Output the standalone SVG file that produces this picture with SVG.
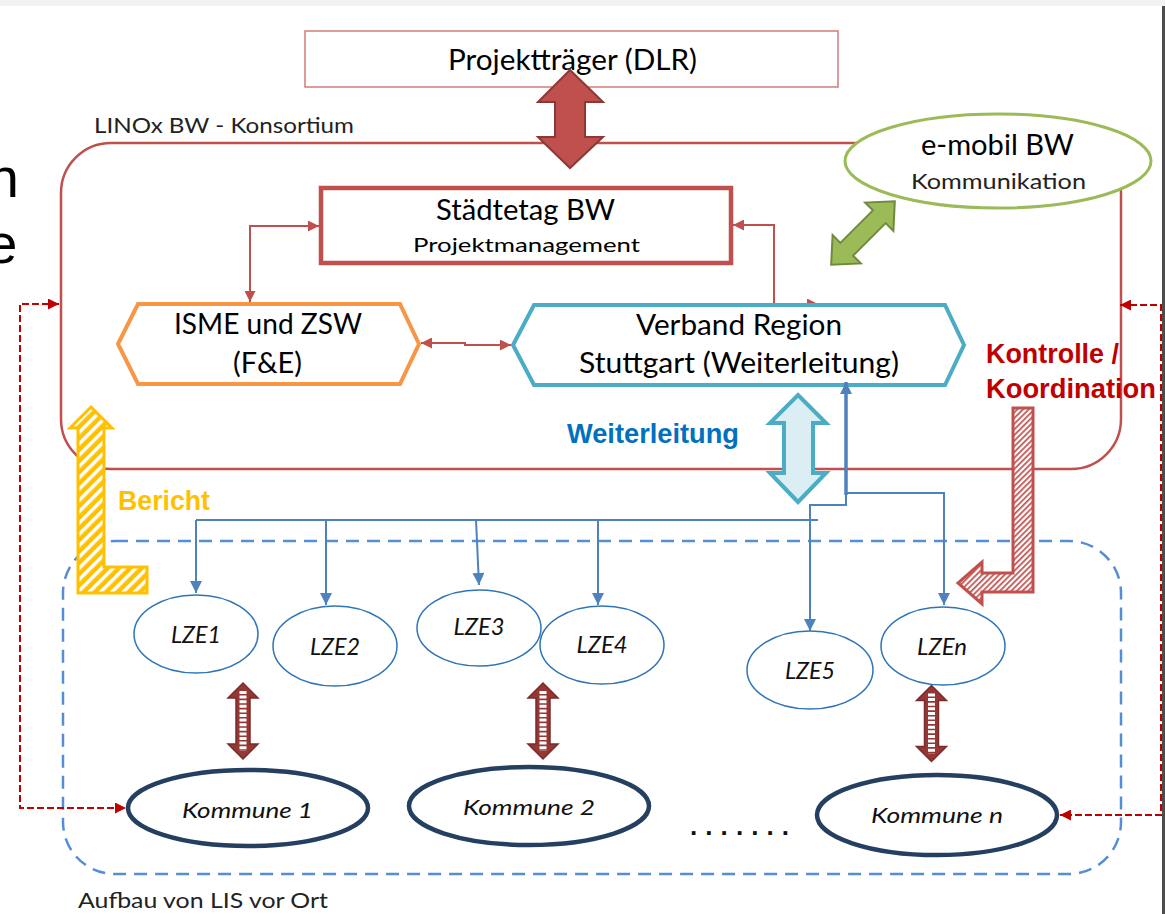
<svg xmlns="http://www.w3.org/2000/svg" width="1165" height="914" viewBox="0 0 1165 914">
<style>
.lbl{font-family:Lato,"Liberation Sans",sans-serif;fill:#000;}
.big{font-size:28px;}
.sm{font-size:21px;}
.it{font-family:Lato,"Liberation Sans",sans-serif;font-style:italic;font-size:23px;fill:#111;}
.bold{font-family:"Liberation Sans",Arial,sans-serif;font-weight:bold;font-size:27px;}
.rc{fill:none;stroke:#c0504d;stroke-width:2;}
.bc{fill:none;stroke:#4f81bd;stroke-width:2;}
.bt{fill:none;stroke:#4f81bd;stroke-width:3.5;}
.rd{fill:none;stroke:#c00000;stroke-width:2;stroke-dasharray:7 3;}
.lze{fill:#fff;stroke:#2e75b6;stroke-width:1.5;}
.kom{fill:#fff;stroke:#243f60;stroke-width:4.5;}
.dbl{fill:#953735;stroke:#7a2b2a;stroke-width:1.5;}
.dash{stroke:#fff;stroke-width:7;stroke-dasharray:3 1.6;}
</style>
<defs>
<marker id="arR" viewBox="0 0 10 10" refX="10" refY="5" markerWidth="11" markerHeight="11" markerUnits="userSpaceOnUse" orient="auto-start-reverse"><path d="M0,0 L10,5 L0,10 z" fill="#c0504d"/></marker>
<marker id="arB" viewBox="0 0 10 10" refX="10" refY="5" markerWidth="13" markerHeight="12" markerUnits="userSpaceOnUse" orient="auto-start-reverse"><path d="M0,0 L10,5 L0,10 z" fill="#4f81bd"/></marker>
<marker id="arD" viewBox="0 0 10 10" refX="10" refY="5" markerWidth="13" markerHeight="11" markerUnits="userSpaceOnUse" orient="auto-start-reverse"><path d="M0,0 L10,5 L0,10 z" fill="#c00000"/></marker>
<pattern id="hatchY" width="8" height="8" patternUnits="userSpaceOnUse" patternTransform="rotate(45)"><rect width="8" height="8" fill="#ffc000"/><rect width="3.5" height="8" fill="#fff"/></pattern>
<pattern id="hatchR" width="4" height="4" patternUnits="userSpaceOnUse" patternTransform="rotate(45)"><rect width="4" height="4" fill="#fff"/><rect width="1.7" height="4" fill="#c0504d"/></pattern>
</defs>

<rect x="0" y="0" width="1165" height="6" fill="#f2f2f2"/>
<rect x="1162" y="6" width="3" height="908" fill="#4d4d4d"/>

<text class="lbl" x="-12.3" y="197" style="font-family:'Liberation Sans',sans-serif;font-size:56px">n</text>
<text class="lbl" x="-13.7" y="263" style="font-family:'Liberation Sans',sans-serif;font-size:56px">e</text>

<g id="konsortium">
<rect x="61" y="143" width="1060" height="326" rx="50" fill="none" stroke="#c0504d" stroke-width="2.5"/>
<text class="lbl" x="94" y="133" style="font-size:21px;fill:#222" textLength="260" lengthAdjust="spacingAndGlyphs">LINOx BW - Konsortium</text>
</g>
<g id="lis-vor-ort">
<rect x="63" y="541" width="1058" height="333" rx="52" fill="none" stroke="#558ed5" stroke-width="2.5" stroke-dasharray="13 8"/>
<text class="lbl" x="78" y="908" style="font-size:21px;fill:#222" textLength="250" lengthAdjust="spacingAndGlyphs">Aufbau von LIS vor Ort</text>
</g>

<g id="connectors">
<path class="rc" d="M250,302 V226 H319" marker-start="url(#arR)" marker-end="url(#arR)"/>
<path class="rc" d="M733,225 H774 V304 H818" marker-start="url(#arR)" marker-end="url(#arR)"/>
<path class="rc" d="M421,343 H465 V345 H511" marker-start="url(#arR)" marker-end="url(#arR)"/>
<path class="bc" d="M196,520 H818"/>
<path class="bc" d="M196,520 V593" marker-end="url(#arB)"/>
<path class="bc" d="M326,520 V605" marker-end="url(#arB)"/>
<path class="bc" d="M476,520 L479,585" marker-end="url(#arB)"/>
<path class="bc" d="M598,520 V605" marker-end="url(#arB)"/>
<path class="bc" d="M846,493 V505 H810 V631" marker-end="url(#arB)"/>
<path class="bc" d="M846,493 H944 V605" marker-end="url(#arB)"/>
<path class="rd" d="M59,304 H20 V808 H126" marker-start="url(#arD)" marker-end="url(#arD)"/>
<path class="rd" d="M1120,305 H1161 V815 H1060" marker-start="url(#arD)" marker-end="url(#arD)"/>
</g>

<g id="projekttraeger">
<rect x="305" y="31" width="533" height="56" fill="#fff" stroke="#d47b79" stroke-width="1.5"/>
<text class="lbl big" x="572.5" y="70" text-anchor="middle" textLength="249" lengthAdjust="spacingAndGlyphs">Projektträger (DLR)</text>
</g>
<g id="staedtetag">
<rect x="321" y="188" width="410" height="75" fill="#fff" stroke="#c0504d" stroke-width="4.5"/>
<text class="lbl big" x="525.5" y="220" text-anchor="middle" textLength="179" lengthAdjust="spacingAndGlyphs">Städtetag BW</text>
<text class="lbl" x="526.5" y="252" text-anchor="middle" style="font-size:20px" textLength="227" lengthAdjust="spacingAndGlyphs">Projektmanagement</text>
</g>
<g id="emobil">
<ellipse cx="998" cy="161" rx="153" ry="47" fill="#fff" stroke="#9bbb59" stroke-width="3"/>
<text class="lbl big" x="997.5" y="155" text-anchor="middle" textLength="153" lengthAdjust="spacingAndGlyphs">e-mobil BW</text>
<text class="lbl" x="998.5" y="189" text-anchor="middle" style="font-size:22px;fill:#222" textLength="175" lengthAdjust="spacingAndGlyphs">Kommunikation</text>
</g>
<g id="isme">
<polygon points="118,344 138,304 400,304 419,344 400,384 138,384" fill="#fff" stroke="#f79646" stroke-width="4"/>
<text class="lbl big" x="268" y="334" text-anchor="middle" textLength="188" lengthAdjust="spacingAndGlyphs">ISME und ZSW</text>
<text class="lbl big" x="267.5" y="373" text-anchor="middle" textLength="69" lengthAdjust="spacingAndGlyphs">(F&amp;E)</text>
</g>
<g id="verband">
<polygon points="513,345 534,305 945,305 964,345 945,385 534,385" fill="#fff" stroke="#4bacc6" stroke-width="4"/>
<text class="lbl big" x="739" y="335" text-anchor="middle" textLength="206" lengthAdjust="spacingAndGlyphs">Verband Region</text>
<text class="lbl big" x="739" y="373" text-anchor="middle" textLength="320" lengthAdjust="spacingAndGlyphs">Stuttgart (Weiterleitung)</text>
</g>
<g id="connector-up">
<path class="bt" d="M846,495 V382" marker-end="url(#arB)"/>
</g>

<g id="lze1"><ellipse class="lze" cx="196" cy="634" rx="62" ry="39"/><text class="it" x="196" y="643" text-anchor="middle" textLength="50" lengthAdjust="spacingAndGlyphs">LZE1</text></g>
<g id="lze2"><ellipse class="lze" cx="335" cy="646" rx="62" ry="40"/><text class="it" x="335" y="655" text-anchor="middle" textLength="50" lengthAdjust="spacingAndGlyphs">LZE2</text></g>
<g id="lze3"><ellipse class="lze" cx="479" cy="628" rx="62" ry="38"/><text class="it" x="479" y="635" text-anchor="middle" textLength="51" lengthAdjust="spacingAndGlyphs">LZE3</text></g>
<g id="lze4"><ellipse class="lze" cx="602" cy="645" rx="62" ry="39"/><text class="it" x="602" y="653" text-anchor="middle" textLength="51" lengthAdjust="spacingAndGlyphs">LZE4</text></g>
<g id="lze5"><ellipse class="lze" cx="810" cy="670" rx="63" ry="39"/><text class="it" x="810" y="679" text-anchor="middle" textLength="50" lengthAdjust="spacingAndGlyphs">LZE5</text></g>
<g id="lzen"><ellipse class="lze" cx="943" cy="646" rx="62" ry="39"/><text class="it" x="942" y="655" text-anchor="middle" textLength="50" lengthAdjust="spacingAndGlyphs">LZEn</text></g>

<g id="kommune1"><ellipse class="kom" cx="248" cy="808" rx="120" ry="38"/><text class="it" x="247.5" y="818" text-anchor="middle" style="font-size:22px" textLength="131" lengthAdjust="spacingAndGlyphs">Kommune 1</text></g>
<g id="kommune2"><ellipse class="kom" cx="529" cy="806" rx="120" ry="39"/><text class="it" x="529" y="815" text-anchor="middle" style="font-size:22px" textLength="132" lengthAdjust="spacingAndGlyphs">Kommune 2</text></g>
<g id="kommunen"><ellipse class="kom" cx="937" cy="815" rx="120" ry="40"/><text class="it" x="937" y="823" text-anchor="middle" style="font-size:22px" textLength="132" lengthAdjust="spacingAndGlyphs">Kommune n</text></g>
<text x="690" y="835" style="font-family:'Liberation Sans',sans-serif;font-weight:bold;font-size:26px;fill:#111" textLength="99" lengthAdjust="spacing">.......</text>

<g id="arrows">
<path d="M570,70 L603,102 L585,102 L585,137 L603,137 L570,168 L538,137 L555,137 L555,102 L538,102 Z" fill="#c0504d" stroke="#8c3836" stroke-width="2"/>
<path transform="translate(863,233) rotate(-45)" d="M-45,0 L-23,-20 L-23,-9 L23,-9 L23,-20 L45,0 L23,20 L23,9 L-23,9 L-23,20 Z" fill="#9bbb59" stroke="#71893f" stroke-width="2"/>
<path d="M798,395 L826,423 L813,423 L813,473 L826,473 L798,502 L770,473 L784,473 L784,423 L770,423 Z" fill="#daeef3" stroke="#4bacc6" stroke-width="4"/>
<path d="M91,407 L112,428 L104,428 L104,567 L147,567 L147,593 L78,593 L78,428 L70,428 Z" fill="url(#hatchY)" stroke="#ffc000" stroke-width="3"/>
<path d="M1013,408 L1033,408 L1033,592 L982,592 L982,604 L958,583 L982,562 L982,573 L1013,573 Z" fill="url(#hatchR)" stroke="#c0504d" stroke-width="3"/>
<g transform="translate(243,721)"><path class="dbl" d="M0,-38 L15,-23 L7,-23 L7,23 L15,23 L0,38 L-15,23 L-7,23 L-7,-23 L-15,-23 Z"/><path class="dash" d="M0,-30 V30"/></g>
<g transform="translate(543,721)"><path class="dbl" d="M0,-38 L15,-23 L7,-23 L7,23 L15,23 L0,38 L-15,23 L-7,23 L-7,-23 L-15,-23 Z"/><path class="dash" d="M0,-30 V30"/></g>
<g transform="translate(931.5,723.5)"><path class="dbl" d="M0,-38 L15,-23 L7,-23 L7,23 L15,23 L0,38 L-15,23 L-7,23 L-7,-23 L-15,-23 Z"/><path class="dash" d="M0,-30 V30"/></g>
</g>

<text class="bold" x="567" y="443" style="fill:#0070c0" textLength="172" lengthAdjust="spacingAndGlyphs">Weiterleitung</text>
<text class="bold" x="986" y="363" style="fill:#c00000" textLength="133" lengthAdjust="spacingAndGlyphs">Kontrolle /</text>
<text class="bold" x="986" y="398" style="fill:#c00000" textLength="170" lengthAdjust="spacingAndGlyphs">Koordination</text>
<text class="bold" x="118" y="510" style="fill:#ffc000" textLength="92" lengthAdjust="spacingAndGlyphs">Bericht</text>
</svg>
